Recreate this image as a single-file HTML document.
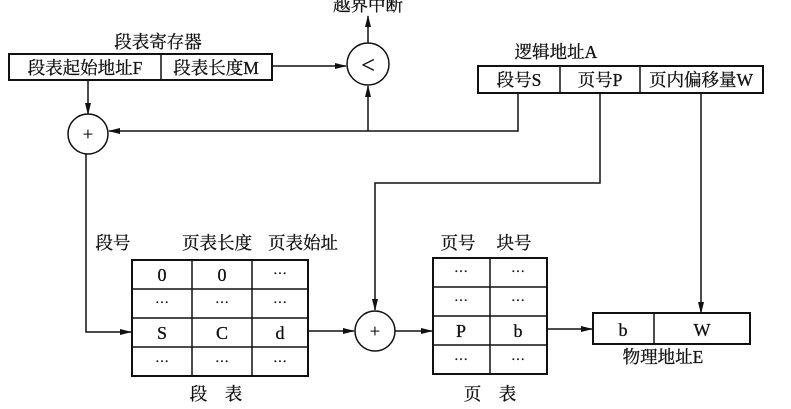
<!DOCTYPE html>
<html><head><meta charset="utf-8"><style>
html,body{margin:0;padding:0;background:#fff;}
svg{display:block;}
text{font-family:"Liberation Serif","Noto Serif CJK SC","Noto Sans CJK SC",serif;fill:#111;stroke:#111;stroke-width:0.3;}
</style></head><body>
<svg width="791" height="409" viewBox="0 0 791 409" xmlns="http://www.w3.org/2000/svg">
<defs><marker id="a" markerWidth="12" markerHeight="8" refX="11" refY="4" orient="auto" markerUnits="userSpaceOnUse"><path d="M0,1 L12,4 L0,7 Z" fill="#111"/></marker></defs>
<g stroke="#111" stroke-width="1.5" fill="none">
<rect x="9" y="54" width="263" height="26" stroke-width="2"/>
<line x1="161" y1="54" x2="161" y2="80"/>
<line x1="272" y1="66" x2="346" y2="66" marker-end="url(#a)"/>
<circle cx="368" cy="64" r="21"/>
<line x1="368" y1="43" x2="368" y2="16" marker-end="url(#a)"/>
<line x1="368" y1="131" x2="368" y2="86" marker-end="url(#a)"/>
<rect x="478" y="66" width="285" height="27" stroke-width="2"/>
<line x1="560" y1="66" x2="560" y2="93"/>
<line x1="640" y1="66" x2="640" y2="93"/>
<polyline points="518,93 518,131 109,131" marker-end="url(#a)"/>
<line x1="88" y1="80" x2="88" y2="114" marker-end="url(#a)"/>
<circle cx="88" cy="134" r="20"/>
<polyline points="86,154 86,332 131,332" marker-end="url(#a)"/>
<polyline points="600,93 600,183 375,183 375,310" marker-end="url(#a)"/>
<line x1="701" y1="93" x2="701" y2="313" marker-end="url(#a)"/>
<rect x="132" y="260" width="176" height="116" stroke-width="2"/>
<line x1="192" y1="260" x2="192" y2="376"/>
<line x1="252" y1="260" x2="252" y2="376"/>
<line x1="132" y1="289" x2="308" y2="289"/>
<line x1="132" y1="318" x2="308" y2="318"/>
<line x1="132" y1="347" x2="308" y2="347"/>
<line x1="308" y1="331" x2="354" y2="331" marker-end="url(#a)"/>
<circle cx="375" cy="331" r="20"/>
<line x1="395" y1="331" x2="432" y2="331" marker-end="url(#a)"/>
<rect x="433" y="258" width="114" height="116" stroke-width="2"/>
<line x1="490" y1="258" x2="490" y2="374"/>
<line x1="433" y1="287" x2="547" y2="287"/>
<line x1="433" y1="316" x2="547" y2="316"/>
<line x1="433" y1="345" x2="547" y2="345"/>
<line x1="547" y1="329" x2="592" y2="329" marker-end="url(#a)"/>
<rect x="593" y="313" width="157" height="31" stroke-width="2"/>
<line x1="654" y1="313" x2="654" y2="344"/>
</g>
<g font-size="17.5" text-anchor="middle">
<text x="368" y="11">越界中断</text>
<text x="158" y="48">段表寄存器</text>
<text x="85" y="74">段表起始地址F</text>
<text x="216" y="74">段表长度M</text>
<text x="368" y="73" font-size="24" stroke-width="0">&lt;</text>
<text x="556" y="58">逻辑地址A</text>
<text x="519" y="86">段号S</text>
<text x="600" y="86">页号P</text>
<text x="701" y="86">页内偏移量W</text>
<text x="88" y="140" font-size="18">+</text>
<text x="375" y="337" font-size="18">+</text>
<text x="113" y="249">段号</text>
<text x="217" y="249">页表长度</text>
<text x="303" y="249">页表始址</text>
</g>
<g font-size="18" text-anchor="middle">
<text x="162" y="281">0</text><text x="222" y="281">0</text><text x="280" y="278" font-size="14">···</text>
<text x="162" y="307" font-size="14">···</text><text x="222" y="307" font-size="14">···</text><text x="280" y="307" font-size="14">···</text>
<text x="162" y="339">S</text><text x="222" y="339">C</text><text x="280" y="339">d</text>
<text x="162" y="366" font-size="14">···</text><text x="222" y="366" font-size="14">···</text><text x="280" y="366" font-size="14">···</text>
<text x="216" y="400" font-size="17.5">段　表</text>
<text x="458" y="249" font-size="17.5">页号</text>
<text x="514" y="249" font-size="17.5">块号</text>
<text x="461" y="276" font-size="14">···</text><text x="518" y="276" font-size="14">···</text>
<text x="461" y="305" font-size="14">···</text><text x="518" y="305" font-size="14">···</text>
<text x="461" y="337">P</text><text x="518" y="337">b</text>
<text x="461" y="364" font-size="14">···</text><text x="518" y="364" font-size="14">···</text>
<text x="490" y="400" font-size="17.5">页　表</text>
<text x="623" y="336">b</text>
<text x="702" y="336">W</text>
<text x="663" y="363" font-size="17.5">物理地址E</text>
</g>
</svg>
</body></html>
